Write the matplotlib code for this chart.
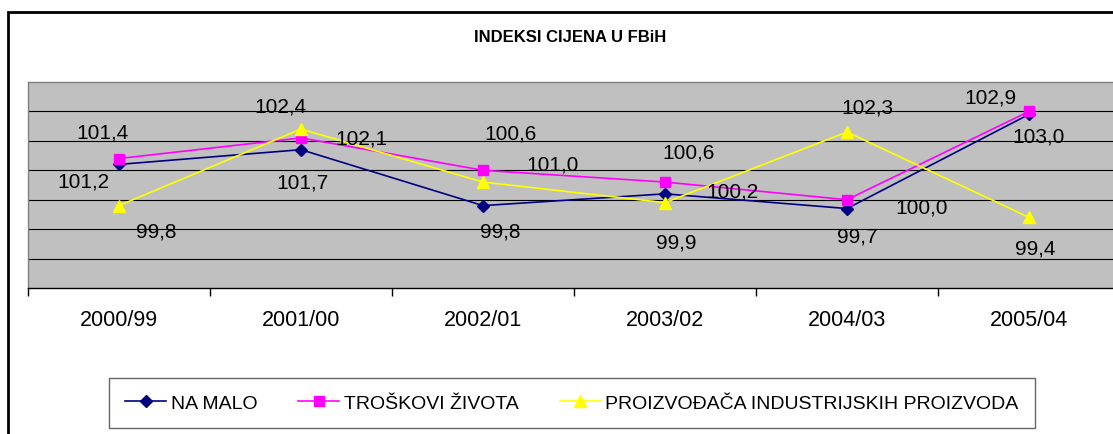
import matplotlib.pyplot as plt
from matplotlib.patches import Rectangle

plt.rcParams["font.family"] = ["Liberation Sans", "DejaVu Sans"]

# data
categories = ["2000/99", "2001/00", "2002/01", "2003/02", "2004/03", "2005/04"]
na_malo = [101.2, 101.7, 99.8, 100.2, 99.7, 102.9]
troskovi = [101.4, 102.1, 101.0, 100.6, 100.0, 103.0]
proizvodaca = [99.8, 102.4, 100.6, 99.9, 102.3, 99.4]
series_names = ["NA MALO", "TROŠKOVI ŽIVOTA", "PROIZVOĐAČA INDUSTRIJSKIH PROIZVODA"]

# label offsets in pixels (dx, dy) - Excel placed them all over the place
off_na_malo = [(-36, -17), (1, -32), (17, -25), (68, 3), (10, -27), (-39, 17)]
off_troskovi = [(-17, 27), (60, 0), (70, 6), (24, 30), (75, -7), (10, -25)]
off_proizv = [(37, -25), (-21, 23), (28, 49), (11, -39), (20, 25), (6, -31)]

fig = plt.figure(figsize=(11.13, 4.35), dpi=100)
W, H = 1113, 435
ax = fig.add_axes([28 / W, (H - 289) / H, (1120 - 28) / W, 206 / H])
ax.set_facecolor("#C0C0C0")

x = list(range(len(categories)))
styles = [
    (na_malo, "#000080", "D", 6.5, off_na_malo),
    (troskovi, "#FF00FF", "s", 6.5, off_troskovi),
    (proizvodaca, "#FFFF00", "^", 8, off_proizv),
]
for (vals, col, mk, ms, offs), name in zip(styles, series_names):
    ax.plot(x, vals, color=col, lw=1.2, marker=mk, ms=ms, mfc=col, mec=col, label=name, zorder=3)
    for xi, v, (dx, dy) in zip(x, vals, offs):
        ax.annotate(f"{v:.1f}".replace(".", ","), (xi, v), xytext=(dx, dy),
                    textcoords="offset pixels", ha="center", va="center",
                    fontsize=15, color="black", zorder=4)

ax.set_xlim(-0.5, 5.5)
ax.set_ylim(97, 104)
ax.set_yticks([98, 99, 100, 101, 102, 103])
ax.yaxis.grid(True, color="black", lw=0.8)
ax.set_axisbelow(True)
ax.tick_params(axis="y", left=False, labelleft=False)

ax.set_xticks([i - 0.5 for i in range(len(categories) + 1)])
ax.set_xticklabels([])
ax.tick_params(axis="x", which="major", direction="out", length=6, width=1, color="black")
ax.set_xticks(x, minor=True)
ax.set_xticklabels(categories, minor=True, fontsize=15.5)
ax.tick_params(axis="x", which="minor", length=0, pad=15)

for s in ["top", "left", "right"]:
    ax.spines[s].set_color("#808080")
    ax.spines[s].set_linewidth(1)
ax.spines["bottom"].set_color("black")
ax.spines["bottom"].set_linewidth(1)

fig.text(570 / W, 1 - 38 / H, "INDEKSI CIJENA U FBiH", ha="center", va="center",
         fontsize=12, fontweight="bold")

leg = fig.legend(loc="center", bbox_to_anchor=(572 / W, 1 - 404 / H), ncol=3,
                 fontsize=14, frameon=True, fancybox=False, handlelength=2.1,
                 handletextpad=0.25, columnspacing=2.1, borderpad=0.85)
leg.get_frame().set_edgecolor("#404040")
leg.get_frame().set_linewidth(1)

# outer chart border (runs off the right and bottom of the picture)
fig.patches.append(Rectangle((8 / W, -0.05), 1.1, 1 - 13 / H + 0.05, transform=fig.transFigure,
                             fill=False, edgecolor="black", lw=2))

fig.savefig("out.png", dpi=100)
